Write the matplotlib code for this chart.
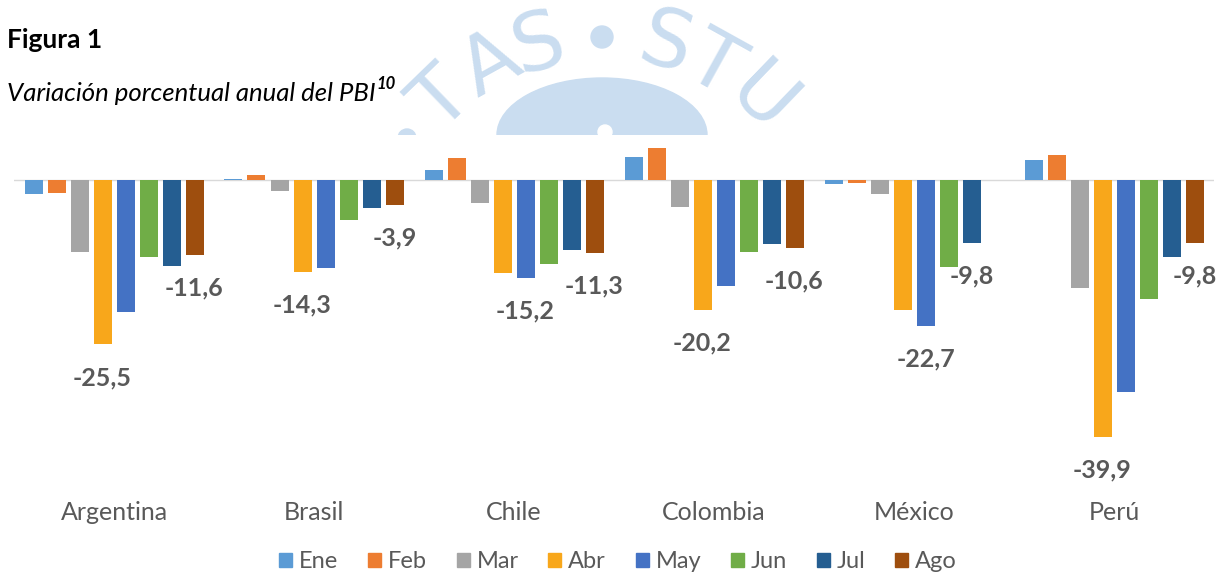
import numpy as np
import matplotlib
matplotlib.use("Agg")
import matplotlib.pyplot as plt
from matplotlib.patches import Patch, Ellipse

# datos (variación % anual del PBI, 2020)
paises = ["Argentina", "Brasil", "Chile", "Colombia", "México", "Perú"]
meses = ["Ene", "Feb", "Mar", "Abr", "May", "Jun", "Jul", "Ago"]
ene = [-2.1, 0.1, 1.5, 3.5, -0.6, 3.1]
feb = [-2.0, 0.7, 3.4, 5.0, -0.5, 3.9]
mar = [-11.2, -1.7, -3.6, -4.2, -2.2, -16.8]
abr = [-25.5, -14.3, -14.4, -20.2, -20.2, -39.9]
may = [-20.4, -13.7, -15.2, -16.4, -22.7, -32.8]
jun = [-11.9, -6.2, -13.0, -11.1, -13.5, -18.4]
jul = [-13.3, -4.4, -10.9, -9.9, -9.8, -12.0]
ago = [-11.6, -3.9, -11.3, -10.6, np.nan, -9.8]
series = [ene, feb, mar, abr, may, jun, jul, ago]
# mes rotulado en cada país
rotulos = [("Abr", "Ago"), ("Abr", "Ago"), ("May", "Ago"),
           ("Abr", "Ago"), ("May", "Jul"), ("Abr", "Ago")]

colores = ["#5B9BD5", "#ED7D31", "#A5A5A5", "#F8A71B",
           "#4472C4", "#70AD47", "#255E91", "#9E4E0E"]
gris = "#595959"
plt.rcParams["font.family"] = ["Lato", "DejaVu Sans"]

W, H = 1219, 575
fig = plt.figure(figsize=(W / 100, H / 100), dpi=100)

def fx(px):
    return px / W

def fy(py):
    return 1 - py / H

# títulos
fig.text(fx(7), fy(48), "Figura 1", fontsize=19, fontweight="bold",
         color="black", va="baseline", ha="left")
sub = fig.text(fx(7), fy(101), "Variación porcentual anual del PBI", fontsize=18.5,
               fontstyle="italic", color="black", va="baseline", ha="left")
r = fig.canvas.get_renderer()
bb = sub.get_window_extent(r)
fig.text(fx(bb.x1 + 1), fy(89), "10", fontsize=12, fontstyle="italic",
         fontweight="bold", color="black", va="baseline", ha="left")

# marca de agua
azul = "#CADDF0"
cx, cy, rad = 602, 266, 229
for letra, ang in zip(["T", "A", "S", "•", "S", "T", "U"],
                      [-44, -29, -16, 0, 16, 29, 44]):
    a = np.deg2rad(ang)
    x = cx + rad * np.sin(a)
    y = cy - rad * np.cos(a)
    if letra == "•":
        fig.patches.append(Ellipse((fx(x), fy(y)), fx(22), 22 / H, color=azul,
                                   transform=fig.transFigure, zorder=-2))
        continue
    fig.text(fx(x), fy(y), letra, fontsize=58, color=azul, family="DejaVu Sans",
             ha="center", va="center", rotation=-ang, zorder=-2)
fig.patches.append(Ellipse((fx(602), fy(135)), fx(210), 114 / H, color=azul,
                           transform=fig.transFigure, zorder=-2))
fig.patches.append(Ellipse((fx(605), fy(132)), fx(14), 14 / H, color="white",
                           transform=fig.transFigure, zorder=-1.5))
fig.patches.append(Ellipse((fx(407), fy(138)), fx(18), 18 / H, color=azul,
                           transform=fig.transFigure, zorder=-2))

# gráfico
escala = 6.45  # px por punto porcentual
top, cero = 135, 180
ax = fig.add_axes([fx(14), 0, fx(1200), fy(top)])
ax.set_facecolor("white")
ax.set_xlim(-0.5, len(paises) - 0.5)
ax.set_ylim(-(H - cero) / escala, (cero - top) / escala)
for s in ax.spines.values():
    s.set_visible(False)
ax.set_xticks([])
ax.set_yticks([])
ax.axhline(0, color="#D9D9D9", lw=1, zorder=1)

x = np.arange(len(paises))
paso, ancho = 0.115, 0.09
for j, (mes, vals) in enumerate(zip(meses, series)):
    pos = x + (j - 3.5) * paso
    ax.bar(pos, vals, width=ancho, color=colores[j], zorder=2, label=mes)
    for i, v in enumerate(vals):
        if mes in rotulos[i] and not np.isnan(v):
            ax.annotate(f"{v:.1f}".replace(".", ","), (pos[i], v),
                        xytext=(0, -33), textcoords="offset pixels",
                        ha="center", va="center", fontsize=18, color=gris,
                        fontweight="bold")

for i, p in enumerate(paises):
    ax.text(i, -(512 - cero) / escala, p, ha="center", va="center",
            fontsize=18, color=gris)

handles = [Patch(color=c) for c in colores]
fig.legend(handles, meses, loc="center", bbox_to_anchor=(fx(618), fy(562)),
           ncol=8, frameon=False, fontsize=17, handlelength=0.55, handleheight=0.55,
           handletextpad=0.3, columnspacing=1.25, labelcolor=gris)

fig.savefig("out.png", dpi=100)
